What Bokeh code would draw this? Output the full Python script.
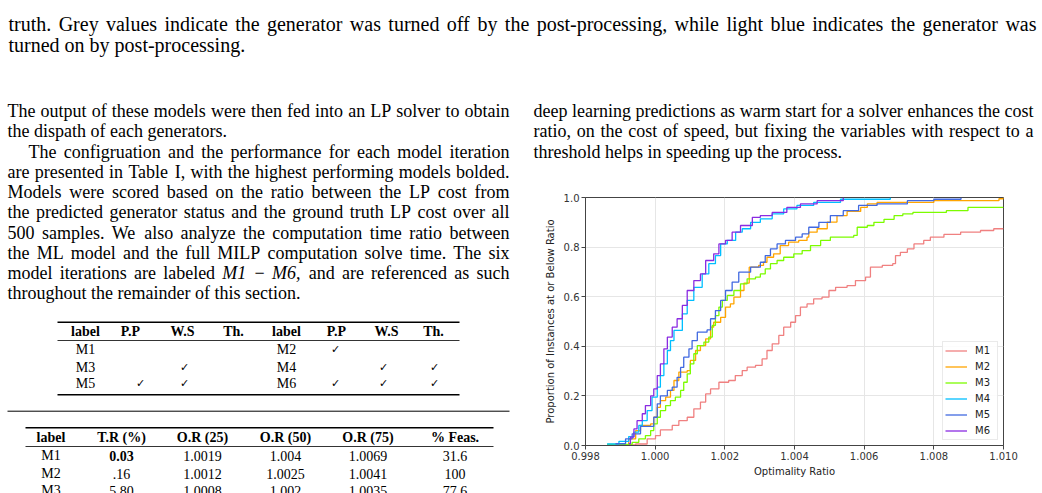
from bokeh.plotting import figure
from bokeh.models import Range1d, FixedTicker, PrintfTickFormatter, ColumnDataSource
from bokeh.layouts import column, row
from bokeh.core.properties import value
from bokeh.embed import file_html
from bokeh.resources import INLINE

# ---------------- chart data ----------------
series_labels = ["M1", "M2", "M3", "M4", "M5", "M6"]
series_colors = ["#f08080", "#ffa500", "#7cfc00", "#00bfff", "#4169e1", "#8a2be2"]

m1_ratio = [0.99910, 0.99944, 0.99977, 1.00001, 1.00015, 1.00049, 1.00068, 1.00092, 1.00111, 1.00130,
            1.00145, 1.00159, 1.00183, 1.00211, 1.00230, 1.00250, 1.00264, 1.00288, 1.00307, 1.00321,
            1.00336, 1.00355, 1.00369, 1.00389, 1.00403, 1.00417, 1.00436, 1.00455, 1.00479, 1.00499,
            1.00518, 1.00551, 1.00575, 1.00604, 1.00618, 1.00652, 1.00682, 1.00690, 1.00704, 1.00724,
            1.00743, 1.00771, 1.00790, 1.00829, 1.00877, 1.00934, 1.00972, 1.01000]
m1_prop = [0.002, 0.006, 0.027, 0.040, 0.063, 0.081, 0.100, 0.114, 0.148, 0.175,
           0.208, 0.228, 0.255, 0.262, 0.282, 0.302, 0.316, 0.323, 0.349, 0.383,
           0.410, 0.444, 0.477, 0.497, 0.524, 0.558, 0.571, 0.591, 0.598, 0.625,
           0.638, 0.645, 0.665, 0.679, 0.719, 0.726, 0.733, 0.766, 0.779, 0.793,
           0.813, 0.827, 0.840, 0.851, 0.860, 0.867, 0.874, 0.874]

m2_ratio = [0.99896, 0.99924, 0.99944, 0.99958, 0.99987, 0.99996, 1.00006, 1.00015, 1.00030, 1.00044,
            1.00054, 1.00068, 1.00092, 1.00101, 1.00116, 1.00130, 1.00145, 1.00159, 1.00168, 1.00188,
            1.00202, 1.00216, 1.00226, 1.00245, 1.00255, 1.00270, 1.00297, 1.00311, 1.00321, 1.00340,
            1.00359, 1.00383, 1.00412, 1.00436, 1.00441, 1.00465, 1.00494, 1.00522, 1.00551, 1.00590,
            1.00609, 1.00637, 1.00800, 1.00987, 1.01000]
m2_prop = [0.002, 0.027, 0.060, 0.081, 0.087, 0.114, 0.154, 0.181, 0.195, 0.222,
           0.262, 0.296, 0.302, 0.343, 0.383, 0.403, 0.430, 0.477, 0.497, 0.517,
           0.558, 0.571, 0.598, 0.625, 0.655, 0.719, 0.726, 0.739, 0.759, 0.773,
           0.806, 0.820, 0.827, 0.840, 0.860, 0.874, 0.901, 0.927, 0.944, 0.960,
           0.974, 0.980, 0.987, 0.995, 1.000]

m3_ratio = [0.99862, 0.99934, 0.99953, 0.99972, 0.99987, 0.99996, 1.00006, 1.00015, 1.00030, 1.00044,
            1.00058, 1.00073, 1.00082, 1.00092, 1.00101, 1.00111, 1.00121, 1.00140, 1.00154, 1.00164,
            1.00173, 1.00183, 1.00193, 1.00207, 1.00226, 1.00245, 1.00264, 1.00288, 1.00302, 1.00316,
            1.00331, 1.00350, 1.00369, 1.00398, 1.00422, 1.00446, 1.00475, 1.00503, 1.00570, 1.00580,
            1.00609, 1.00628, 1.00657, 1.00686, 1.00711, 1.00740, 1.00836, 1.00898, 1.01000]
m3_prop = [0.004, 0.013, 0.027, 0.040, 0.060, 0.087, 0.114, 0.141, 0.161, 0.181,
           0.195, 0.222, 0.255, 0.289, 0.329, 0.370, 0.403, 0.417, 0.437, 0.484,
           0.524, 0.558, 0.585, 0.605, 0.625, 0.652, 0.672, 0.679, 0.692, 0.712,
           0.733, 0.746, 0.759, 0.773, 0.786, 0.806, 0.827, 0.840, 0.847, 0.880,
           0.887, 0.900, 0.912, 0.927, 0.934, 0.940, 0.947, 0.960, 0.960]

m4_ratio = [0.99862, 0.99896, 0.99924, 0.99939, 0.99953, 0.99963, 0.99977, 0.99991, 1.00006, 1.00015,
            1.00025, 1.00035, 1.00044, 1.00054, 1.00078, 1.00092, 1.00111, 1.00135, 1.00154, 1.00173,
            1.00188, 1.00207, 1.00231, 1.00250, 1.00274, 1.00302, 1.00336, 1.00369, 1.00407, 1.00455,
            1.00532, 1.00675]
m4_prop = [0.006, 0.017, 0.036, 0.054, 0.081, 0.100, 0.141, 0.195, 0.235, 0.282,
           0.329, 0.383, 0.423, 0.464, 0.531, 0.585, 0.638, 0.692, 0.733, 0.766,
           0.813, 0.827, 0.860, 0.874, 0.900, 0.914, 0.934, 0.954, 0.968, 0.980,
           0.993, 1.000]

m5_ratio = [0.99886, 0.99915, 0.99934, 0.99958, 0.99996, 1.00006, 1.00015, 1.00035, 1.00049, 1.00063,
            1.00073, 1.00082, 1.00097, 1.00106, 1.00121, 1.00149, 1.00159, 1.00173, 1.00188, 1.00202,
            1.00221, 1.00240, 1.00274, 1.00302, 1.00316, 1.00331, 1.00350, 1.00374, 1.00403, 1.00422,
            1.00441, 1.00470, 1.00503, 1.00540, 1.00584, 1.00637, 1.00724, 1.00800, 1.00878]
m5_prop = [0.007, 0.027, 0.047, 0.077, 0.114, 0.168, 0.200, 0.222, 0.235, 0.275,
           0.315, 0.356, 0.390, 0.423, 0.457, 0.466, 0.511, 0.544, 0.585, 0.625,
           0.659, 0.699, 0.719, 0.739, 0.766, 0.793, 0.813, 0.827, 0.840, 0.853,
           0.880, 0.900, 0.927, 0.947, 0.968, 0.974, 0.987, 0.993, 1.000]

m6_ratio = [0.99924, 0.99929, 0.99939, 0.99948, 0.99963, 0.99972, 0.99987, 0.99996, 1.00006, 1.00015,
            1.00025, 1.00035, 1.00049, 1.00063, 1.00078, 1.00092, 1.00111, 1.00130, 1.00145, 1.00168,
            1.00183, 1.00202, 1.00221, 1.00245, 1.00279, 1.00302, 1.00336, 1.00378, 1.00417, 1.00465,
            1.00540]
m6_prop = [0.007, 0.034, 0.067, 0.100, 0.128, 0.161, 0.200, 0.228, 0.282, 0.329,
           0.390, 0.437, 0.477, 0.511, 0.565, 0.625, 0.665, 0.692, 0.746, 0.773,
           0.813, 0.827, 0.860, 0.887, 0.920, 0.927, 0.940, 0.960, 0.974, 0.987,
           1.000]

series_ratio = [m1_ratio, m2_ratio, m3_ratio, m4_ratio, m5_ratio, m6_ratio]
series_prop = [m1_prop, m2_prop, m3_prop, m4_prop, m5_prop, m6_prop]

x_ticks = [0.998, 1.000, 1.002, 1.004, 1.006, 1.008, 1.010]
y_ticks = [0.0, 0.2, 0.4, 0.6, 0.8, 1.0]
x_title = "Optimality Ratio"
y_title = "Proportion of Instances at or Below Ratio"

# ---------------- page text ----------------
caption_lines = [
    "truth. Grey values indicate the generator was turned off by the post-processing, while light blue indicates the generator was",
    "turned on by post-processing.",
]
left_lines = [
    "The output of these models were then fed into an LP solver to obtain",
    "the dispath of each generators.",
    "The configruation and the performance for each model iteration",
    "are presented in Table I, with the highest performing models bolded.",
    "Models were scored based on the ratio between the LP cost from",
    "the predicted generator status and the ground truth LP cost over all",
    "500 samples. We also analyze the computation time ratio between",
    "the ML model and the full MILP computation solve time. The six",
    "model iterations are labeled M1 \u2212 M6, and are referenced as such",
    "throughout the remainder of this section.",
]
left_justify = [True, False, True, True, True, True, True, True, True, False]
left_indent = [False, False, True, False, False, False, False, False, False, False]
right_lines = [
    "deep learning predictions as warm start for a solver enhances the cost",
    "ratio, on the cost of speed, but fixing the variables with respect to a",
    "threshold helps in speeding up the process.",
]
right_justify = [True, True, False]

t1_header = ["label", "P.P", "W.S", "Th.", "label", "P.P", "W.S", "Th."]
t1_labels = [["M1", "M2"], ["M3", "M4"], ["M5", "M6"]]
t1_checks = [[False, False, False, True, False, False],
             [False, True, False, False, True, True],
             [True, True, False, True, True, True]]
t2_header = ["label", "T.R (%)", "O.R (25)", "O.R (50)", "O.R (75)", "% Feas."]
t2_rows = [["M1", "0.03", "1.0019", "1.004", "1.0069", "31.6"],
           ["M2", ".16", "1.0012", "1.0025", "1.0041", "100"],
           ["M3", "5.80", "1.0008", "1.002", "1.0035", "77.6"]]

SERIF = "Liberation Serif"
SANS = "DejaVu Sans"

TW = {' ': 250, '!': 333, '"': 408, '%': 833, '(': 333, ')': 333, ',': 250, '-': 333, '.': 250,
      ':': 278, ';': 278, '?': 444, '\u2212': 564,
      'A': 722, 'B': 667, 'C': 667, 'D': 722, 'E': 611, 'F': 556, 'G': 722, 'H': 722, 'I': 333,
      'J': 389, 'K': 722, 'L': 611, 'M': 889, 'N': 722, 'O': 722, 'P': 556, 'Q': 722, 'R': 667,
      'S': 556, 'T': 611, 'U': 722, 'V': 722, 'W': 944, 'X': 722, 'Y': 722, 'Z': 611,
      'a': 444, 'b': 500, 'c': 444, 'd': 500, 'e': 444, 'f': 333, 'g': 500, 'h': 500, 'i': 278,
      'j': 278, 'k': 500, 'l': 278, 'm': 778, 'n': 500, 'o': 500, 'p': 500, 'q': 500, 'r': 333,
      's': 389, 't': 278, 'u': 500, 'v': 500, 'w': 722, 'x': 500, 'y': 500, 'z': 444}


def tw(s, size):
    return sum(TW.get(c, 500) for c in s) * size / 1000.0


def text_fig(x0, y0, w, h):
    f = figure(width=w, height=h, x_range=Range1d(x0, x0 + w), y_range=Range1d(y0 + h, y0),
               output_backend="svg", toolbar_location=None, min_border=0,
               x_axis_location=None, y_axis_location=None)
    f.grid.visible = False
    f.outline_line_color = None
    f.background_fill_color = "white"
    f.border_fill_color = "white"
    return f


def draw_line(f, text, x0, x1, y, size, justify):
    words = text.split(" ")
    widths = [tw(w, size) for w in words]
    if justify and len(words) > 1:
        gap = (x1 - x0 - sum(widths)) / (len(words) - 1)
    else:
        gap = 250 * size / 1000.0
    xs, x = [], x0
    for wd in widths:
        xs.append(x)
        x += wd + gap
    styles = ["italic" if w.startswith("M") and len(w) <= 3 and w[1:2].isdigit() else "normal" for w in words]
    src = ColumnDataSource(dict(x=xs, y=[y] * len(words), t=words, s=styles))
    f.text(x="x", y="y", text="t", source=src, text_font=value(SERIF),
           text_font_size=value("%gpx" % size), text_font_style="s",
           text_baseline="alphabetic", text_align="left", text_color="#000000")


BODY = 18
LEAD = 20.22

# ---- top caption ----
top = text_fig(0, 0, 1042, 88)
cap_base = [23.5, 44.0]
for i, ln in enumerate(caption_lines):
    draw_line(top, ln, 8, 1036, cap_base[i], 20, i == 0)

# ---- left column ----
left = text_fig(0, 88, 525, 405)
for i, ln in enumerate(left_lines):
    x0 = 28 if left_indent[i] else 7
    draw_line(left, ln, x0, 509, 110.7 + LEAD * i, BODY, left_justify[i])

# table 1
t1_cols = [85, 130, 182, 233, 286, 336, 386, 433]
left.segment(x0=[57, 57, 57], y0=[321.7, 340, 394.3], x1=[459, 459, 459], y1=[321.7, 340, 394.3],
             line_color="#000000", line_width=[1.4, 0.8, 1.4])
left.text(x=t1_cols, y=[331] * 8, text=t1_header, text_font=value(SERIF), text_font_size=value("14px"),
          text_font_style="bold", text_align="center", text_baseline="middle", text_color="#000000")
row_y = [349, 366.7, 383.3]
chk_cols = [140, 184, 233, 335, 383, 434]
lx, ly, lt, cx, cy = [], [], [], [], []
for r in range(3):
    lx += [85, 286]
    ly += [row_y[r]] * 2
    lt += t1_labels[r]
    for c in range(6):
        if t1_checks[r][c]:
            cx.append(chk_cols[c])
            cy.append(row_y[r])
left.text(x=lx, y=ly, text=lt, text_font=value(SERIF), text_font_size=value("14px"),
          text_align="center", text_baseline="middle", text_color="#000000")
left.text(x=cx, y=cy, text=["\u2713"] * len(cx), text_font=value(SANS), text_font_size=value("11px"),
          text_align="center", text_baseline="middle", text_color="#000000")

# separator and table 2
left.segment(x0=[7], y0=[410.7], x1=[509], y1=[410.7], line_color="#000000", line_width=1)
left.segment(x0=[25, 25], y0=[427.3, 446], x1=[493, 493], y1=[427.3, 446],
             line_color="#000000", line_width=[1.4, 0.8])
t2_cols = [50.5, 121, 202, 285, 367.5, 454.5]
left.text(x=t2_cols, y=[437.3] * 6, text=t2_header, text_font=value(SERIF), text_font_size=value("14px"),
          text_font_style="bold", text_align="center", text_baseline="middle", text_color="#000000")
t2_y = [455, 473.3, 490.0]
rx, ry, rt, rs = [], [], [], []
for r, vals in enumerate(t2_rows):
    for c, v in enumerate(vals):
        rx.append(t2_cols[c])
        ry.append(t2_y[r])
        rt.append(v)
        rs.append("bold" if (r == 0 and c == 1) else "normal")
left.text(x="x", y="y", text="t", text_font_style="s",
          source=ColumnDataSource(dict(x=rx, y=ry, t=rt, s=rs)),
          text_font=value(SERIF), text_font_size=value("14px"),
          text_align="center", text_baseline="middle", text_color="#000000")

# ---- right column text ----
rtop = text_fig(525, 88, 517, 98)
for i, ln in enumerate(right_lines):
    draw_line(rtop, ln, 533, 1033, 110.7 + LEAD * i, BODY, right_justify[i])

# ---- chart ----
p = figure(width=517, height=307, x_range=Range1d(0.998, 1.010), y_range=Range1d(0.0, 1.0),
           output_backend="svg", toolbar_location=None,
           min_border_left=60, min_border_right=39, min_border_top=11, min_border_bottom=48)
p.background_fill_color = "white"
p.border_fill_color = "white"
p.outline_line_color = "#444444"
p.outline_line_width = 1

for lab, col, xs, ys in zip(series_labels, series_colors, series_ratio, series_prop):
    p.step(x=xs, y=ys, mode="after", line_color=col, line_width=1.3, legend_label=lab)

p.xaxis.ticker = FixedTicker(ticks=x_ticks)
p.yaxis.ticker = FixedTicker(ticks=y_ticks)
p.xaxis.formatter = PrintfTickFormatter(format="%.3f")
p.yaxis.formatter = PrintfTickFormatter(format="%.1f")
p.xaxis.axis_label = x_title
p.yaxis.axis_label = y_title
for ax in (p.xaxis, p.yaxis):
    ax.axis_line_color = "#444444"
    ax.major_tick_line_color = "#444444"
    ax.major_tick_out = 4
    ax.major_tick_in = 0
    ax.minor_tick_line_color = None
    ax.major_label_text_font = SANS
    ax.major_label_text_font_size = "10px"
    ax.major_label_text_color = "#333333"
    ax.axis_label_text_font = SANS
    ax.axis_label_text_font_size = "10px"
    ax.axis_label_text_font_style = "normal"
    ax.axis_label_text_color = "#222222"
    ax.major_label_standoff = 2
p.xaxis.axis_label_standoff = 3
p.yaxis.axis_label_standoff = 5
p.grid.grid_line_color = "#e6e6e6"
p.grid.grid_line_width = 1

lg = p.legend[0]
lg.location = "bottom_right"
lg.margin = 5
lg.padding = 2
lg.spacing = 3
lg.glyph_width = 22
lg.glyph_height = 13
lg.label_height = 13
lg.label_standoff = 8
lg.label_text_font = SANS
lg.label_text_font_size = "10px"
lg.label_text_color = "#222222"
lg.border_line_color = "#d5d5d5"
lg.border_line_width = 1
lg.background_fill_alpha = 0.85

right_col = column(row(rtop, spacing=0), row(p, spacing=0), spacing=0)
layout = column(top, row(left, right_col, spacing=0), spacing=0)

open("out.html", "w").write(file_html(layout, INLINE))
